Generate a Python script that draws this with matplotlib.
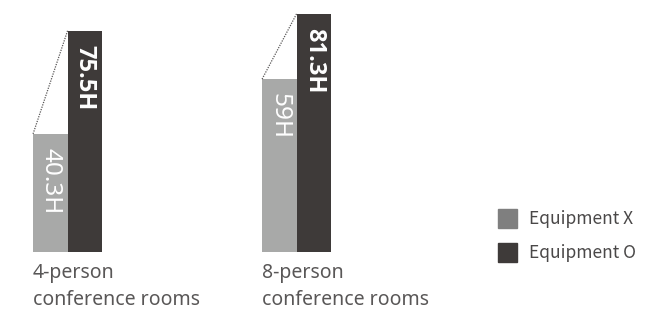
import matplotlib
matplotlib.use("Agg")
import matplotlib.pyplot as plt
from matplotlib.patches import Patch
from matplotlib.transforms import blended_transform_factory

plt.rcParams['font.family'] = ['Noto Sans', 'DejaVu Sans']

# data
categories = ["4-person\nconference rooms", "8-person\nconference rooms"]
series_names = ["Equipment X", "Equipment O"]
equip_x = [40.3, 59]
equip_o = [75.5, 81.3]
labels_x = ["40.3H", "59H"]
labels_o = ["75.5H", "81.3H"]

LIGHT = "#a8a9a8"
DARK = "#3e3a39"
LEGEND_X = "#7f7f7f"
TEXT = "#595757"

fig = plt.figure(figsize=(6.72, 3.14), dpi=100)
ax = fig.add_axes([0, 62 / 314, 1, 252 / 314])

w = 0.1507
positions = list(range(len(categories)))
xs_light = [p - w / 2 for p in positions]
xs_dark = [p + w / 2 for p in positions]

ax.bar(xs_light, equip_x, width=w, color=LIGHT, linewidth=0)
ax.bar(xs_dark, equip_o, width=w, color=DARK, linewidth=0)

for i, p in enumerate(positions):
    # dotted connector between the top left corners
    ax.plot([p - w, p], [equip_x[i], equip_o[i]], linestyle=(0, (1, 1)),
            color=TEXT, linewidth=0.9)
    ax.annotate(labels_x[i], (xs_light[i], equip_x[i]), xytext=(0, -10),
                textcoords="offset points", rotation=-90, ha="center", va="top",
                color="white", fontsize=17.5)
    ax.annotate(labels_o[i], (xs_dark[i], equip_o[i]), xytext=(0, -10),
                textcoords="offset points", rotation=-90, ha="center", va="top",
                color="white", fontsize=17, fontweight="bold",
                family=["Open Sans", "DejaVu Sans"])

trans = blended_transform_factory(ax.transData, ax.transAxes)
for i, p in enumerate(positions):
    ax.text(p - w, -0.045, categories[i], transform=trans, ha="left", va="top",
            fontsize=14, color=TEXT, linespacing=1.45)

ax.set_xlim(-0.295, 2.639)
ax.set_ylim(0, 86)
ax.axis("off")

handles = [Patch(color=LEGEND_X), Patch(color=DARK)]
leg = fig.legend(handles, series_names, loc="upper left",
                 bbox_to_anchor=(482 / 672, 1 - 193 / 314),
                 frameon=False, labelcolor="#4a4848", handlelength=1.1,
                 handleheight=1.3, handletextpad=0.7, labelspacing=0.85,
                 prop={"family": ["Noto Sans CJK KR", "DejaVu Sans"], "weight": "medium", "size": 12.5})

fig.savefig("out.png", dpi=100)
